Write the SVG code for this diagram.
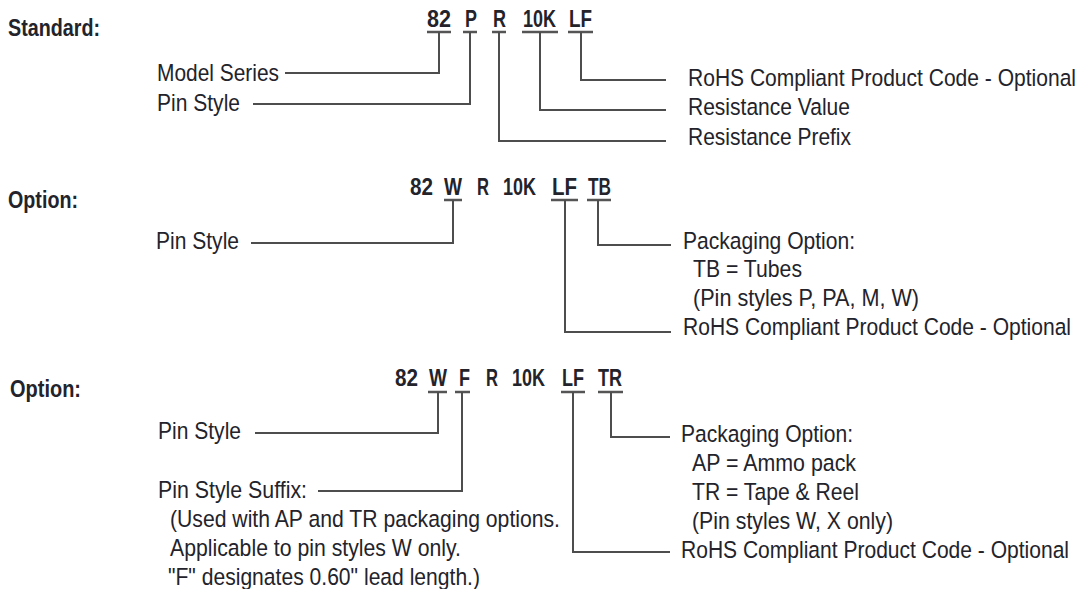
<svg xmlns="http://www.w3.org/2000/svg" width="1079" height="589" viewBox="0 0 1079 589">
<style>
text{font-family:"Liberation Sans Narrow","Liberation Sans",Arial,sans-serif;fill:#23232b;}
.h{font-size:24px;font-weight:bold;}
.c{font-size:24px;font-weight:bold;}
.t{font-size:24.5px;}
.r{font-size:21px;}
.ln{fill:none;stroke:#4d4d4d;stroke-width:2;}
.bar{fill:none;stroke:#555;stroke-width:2.4;}
</style>
<rect width="1079" height="589" fill="#fff"/>
<g id="standard">
<text id="standard-title" class="h" x="8" y="36" textLength="92" lengthAdjust="spacingAndGlyphs">Standard:</text>
<g id="standard-code">
<text class="c" x="427" y="27" textLength="24" lengthAdjust="spacingAndGlyphs">82</text>
<text class="c" x="465" y="27" textLength="12" lengthAdjust="spacingAndGlyphs">P</text>
<text class="c" x="493" y="27" textLength="13" lengthAdjust="spacingAndGlyphs">R</text>
<text class="c" x="523" y="27" textLength="33" lengthAdjust="spacingAndGlyphs">10K</text>
<text class="c" x="569" y="27" textLength="23" lengthAdjust="spacingAndGlyphs">LF</text>
</g>
<g id="std-model-series"><text class="t" x="157" y="81" textLength="122" lengthAdjust="spacingAndGlyphs">Model Series</text></g>
<g id="std-pin-style"><text class="t" x="157" y="111" textLength="83" lengthAdjust="spacingAndGlyphs">Pin Style</text></g>
<g id="std-rohs"><text class="r" transform="translate(688 86) scale(1 1.16)" x="0" y="0" textLength="388" lengthAdjust="spacingAndGlyphs">RoHS Compliant Product Code - Optional</text></g>
<g id="std-res-value"><text class="t" x="688" y="115" textLength="162" lengthAdjust="spacingAndGlyphs">Resistance Value</text></g>
<g id="std-res-prefix"><text class="t" x="688" y="145" textLength="163" lengthAdjust="spacingAndGlyphs">Resistance Prefix</text></g>
</g>
<g id="option1">
<text id="option1-title" class="h" x="8" y="208" textLength="70" lengthAdjust="spacingAndGlyphs">Option:</text>
<g id="option1-code">
<text class="c" x="410" y="195" textLength="23" lengthAdjust="spacingAndGlyphs">82</text>
<text class="c" x="444" y="195" textLength="18" lengthAdjust="spacingAndGlyphs">W</text>
<text class="c" x="477" y="195" textLength="12" lengthAdjust="spacingAndGlyphs">R</text>
<text class="c" x="503" y="195" textLength="33" lengthAdjust="spacingAndGlyphs">10K</text>
<text class="c" x="552" y="195" textLength="25" lengthAdjust="spacingAndGlyphs">LF</text>
<text class="c" x="588" y="195" textLength="23" lengthAdjust="spacingAndGlyphs">TB</text>
</g>
<g id="opt1-pin-style"><text class="t" x="156" y="249" textLength="83" lengthAdjust="spacingAndGlyphs">Pin Style</text></g>
<g id="opt1-packaging">
<text class="t" x="683" y="249" textLength="172" lengthAdjust="spacingAndGlyphs">Packaging Option:</text>
<text class="t" x="693" y="277" textLength="109" lengthAdjust="spacingAndGlyphs">TB = Tubes</text>
<text class="t" x="693" y="306" textLength="226" lengthAdjust="spacingAndGlyphs">(Pin styles P, PA, M, W)</text>
</g>
<g id="opt1-rohs"><text class="r" transform="translate(683 335) scale(1 1.16)" x="0" y="0" textLength="388" lengthAdjust="spacingAndGlyphs">RoHS Compliant Product Code - Optional</text></g>
</g>
<g id="option2">
<text id="option2-title" class="h" x="10" y="397" textLength="71" lengthAdjust="spacingAndGlyphs">Option:</text>
<g id="option2-code">
<text class="c" x="395" y="386" textLength="23" lengthAdjust="spacingAndGlyphs">82</text>
<text class="c" x="429" y="386" textLength="18" lengthAdjust="spacingAndGlyphs">W</text>
<text class="c" x="459" y="386" textLength="11" lengthAdjust="spacingAndGlyphs">F</text>
<text class="c" x="486" y="386" textLength="12" lengthAdjust="spacingAndGlyphs">R</text>
<text class="c" x="512" y="386" textLength="33" lengthAdjust="spacingAndGlyphs">10K</text>
<text class="c" x="562" y="386" textLength="22" lengthAdjust="spacingAndGlyphs">LF</text>
<text class="c" x="598" y="386" textLength="24" lengthAdjust="spacingAndGlyphs">TR</text>
</g>
<g id="opt2-pin-style"><text class="t" x="158" y="439" textLength="83" lengthAdjust="spacingAndGlyphs">Pin Style</text></g>
<g id="opt2-pin-suffix">
<text class="t" x="158" y="498" textLength="149" lengthAdjust="spacingAndGlyphs">Pin Style Suffix:</text>
<text class="t" x="170" y="527" textLength="390" lengthAdjust="spacingAndGlyphs">(Used with AP and TR packaging options.</text>
<text class="t" x="170" y="556" textLength="291" lengthAdjust="spacingAndGlyphs">Applicable to pin styles W only.</text>
<text class="t" x="168" y="585" textLength="312" lengthAdjust="spacingAndGlyphs">"F" designates 0.60" lead length.)</text>
</g>
<g id="opt2-packaging">
<text class="t" x="681" y="442" textLength="172" lengthAdjust="spacingAndGlyphs">Packaging Option:</text>
<text class="t" x="692" y="471" textLength="164" lengthAdjust="spacingAndGlyphs">AP = Ammo pack</text>
<text class="t" x="692" y="500" textLength="167" lengthAdjust="spacingAndGlyphs">TR = Tape &amp; Reel</text>
<text class="t" x="692" y="529" textLength="201" lengthAdjust="spacingAndGlyphs">(Pin styles W, X only)</text>
</g>
<g id="opt2-rohs"><text class="r" transform="translate(681 558) scale(1 1.16)" x="0" y="0" textLength="388" lengthAdjust="spacingAndGlyphs">RoHS Compliant Product Code - Optional</text></g>
</g>
<g id="connectors">
<path class="bar" d="M427 32H451M463 32H477M492 32H506M522 32H558M568 32H593"/>
<path class="ln" d="M439 32V73H285M470 32V104H253M499 32V141H666M540 32V110H666M581 32V80H666"/>
<path class="bar" d="M444 200H462M551 200H578M587 200H611"/>
<path class="ln" d="M453 200V243H251M565 200V332H671M598 200V245H671"/>
<path class="bar" d="M428 392H447M455 392H470M561 392H585M598 392H623"/>
<path class="ln" d="M438 392V433H255M462 392V491H318M573 392V552H670M611 392V437H670"/>
</g>
</svg>
